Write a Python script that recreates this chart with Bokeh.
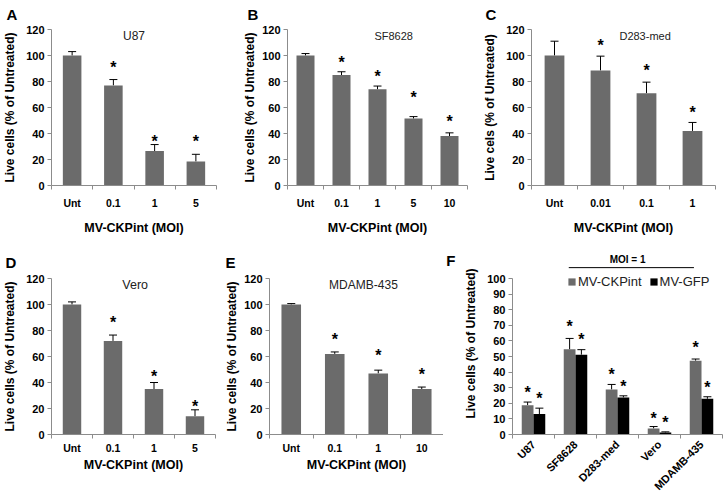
from math import pi
from bokeh.plotting import figure
from bokeh.layouts import row, column
from bokeh.models import (Range1d, FixedTicker, Whisker, TeeHead, ColumnDataSource,
                          Label, Legend, LegendItem, LinearAxis)
from bokeh.transform import dodge
from bokeh.core.properties import value
from bokeh.embed import file_html
from bokeh.resources import INLINE

FONT = "Liberation Sans"
BAR = "#6b6b6b"
AXIS = "#8c8c8c"
YLABEL = "Live cells (% of Untreated)"
YLABEL_C = "Live cels (% of Untreated)"
XLABEL = "MV-CKPint (MOI)"

# ---- data ----
a_cats = ["Unt", "0.1", "1", "5"]
a_vals = [100, 77, 26.5, 18.5]
a_errs = [3, 4.5, 5, 5.5]
a_star = [None, 94, 37, 37]

b_cats = ["Unt", "0.1", "1", "5", "10"]
b_vals = [100, 85, 74, 51.5, 38]
b_errs = [1.5, 2.5, 2.5, 1.5, 2.5]
b_star = [None, 98, 87, 71, 52]

c_cats = ["Unt", "0.01", "0.1", "1"]
c_vals = [100, 88.5, 71, 42]
c_errs = [11, 11, 8.5, 6.5]
c_star = [None, 111, 91.5, 59.5]

d_cats = ["Unt", "0.1", "1", "5"]
d_vals = [100, 72, 35, 14]
d_errs = [2, 4.5, 5, 5]
d_star = [None, 89, 48, 24.5]

e_cats = ["Unt", "0.1", "1", "10"]
e_vals = [100, 62, 47, 35]
e_errs = [0.7, 1.5, 2.5, 1.5]
e_star = [None, 76, 64, 49]

f_cats = ["U87", "SF8628", "D283-med", "Vero", "MDAMB-435"]
f_ck = [18.8, 54.6, 28.9, 3.9, 47.3]
f_ck_err = [2.0, 7.0, 3.2, 1.2, 1.1]
f_gfp = [13.1, 51.2, 23.8, 1.3, 22.9]
f_gfp_err = [3.8, 3.2, 1.0, 0.4, 1.3]
f_ck_star = [29.8, 71.7, 41.1, 12.8, 58.2]
f_gfp_star = [25.5, 63.4, 33.6, 10.5, 32.5]
f_note = "MOI = 1"


def base_fig(w, h, mbl, mbr, mbt, mbb, n, ytop, **kw):
    p = figure(width=w, height=h, output_backend="svg", toolbar_location=None,
               x_range=Range1d(-0.5, n - 0.5), y_range=Range1d(0, ytop),
               min_border_left=mbl, min_border_right=mbr,
               min_border_top=mbt, min_border_bottom=mbb, **kw)
    p.outline_line_color = None
    p.grid.visible = False
    p.background_fill_color = "white"
    p.border_fill_color = "white"
    return p


def style_axes(p, cats, ymax, ystep, tick_so, lab_so, ylab_so, orient=None,
               xlabel=XLABEL, ylabel=YLABEL):
    n = len(cats)
    xa = p.xaxis[0]
    xa.ticker = FixedTicker(ticks=list(range(n)), minor_ticks=[i - 0.5 for i in range(n + 1)])
    xa.major_label_overrides = {i: c for i, c in enumerate(cats)}
    xa.major_tick_out = 0
    xa.major_tick_in = 0
    xa.minor_tick_out = 4
    xa.minor_tick_in = 0
    xa.axis_line_color = AXIS
    xa.minor_tick_line_color = AXIS
    xa.major_label_text_font = FONT
    xa.major_label_text_font_style = "bold"
    xa.major_label_text_font_size = "10.5px"
    xa.major_label_text_color = "black"
    xa.major_label_standoff = tick_so
    if orient is not None:
        xa.major_label_orientation = orient
    if xlabel:
        xa.axis_label = xlabel
        xa.axis_label_text_font = FONT
        xa.axis_label_text_font_style = "bold"
        xa.axis_label_text_font_size = "12.5px"
        xa.axis_label_text_color = "black"
        xa.axis_label_standoff = lab_so

    ya = p.yaxis[0]
    ya.ticker = FixedTicker(ticks=list(range(0, ymax + 1, ystep)))
    ya.bounds = (0, ymax)
    ya.major_tick_out = 4
    ya.major_tick_in = 0
    ya.minor_tick_out = 0
    ya.axis_line_color = AXIS
    ya.major_tick_line_color = AXIS
    ya.major_label_text_font = FONT
    ya.major_label_text_font_style = "bold"
    ya.major_label_text_font_size = "11px"
    ya.major_label_text_color = "black"
    ya.major_label_standoff = 3
    ya.axis_label = ylabel
    ya.axis_label_text_font = FONT
    ya.axis_label_text_font_style = "bold"
    ya.axis_label_text_font_size = "12px"
    ya.axis_label_text_color = "black"
    ya.axis_label_standoff = ylab_so


def add_series(p, cats, vals, errs, stars, width, offset=0.0, color=BAR):
    n = len(cats)
    src = ColumnDataSource(dict(x=list(range(n)), top=vals,
                                upper=[v + e for v, e in zip(vals, errs)]))
    xs = dodge("x", offset, range=p.x_range)
    r = p.vbar(x=xs, top="top", width=width, source=src, fill_color=color, line_color=None)
    p.add_layout(Whisker(base=xs, lower="top", upper="upper", source=src,
                         line_color="black", line_width=1,
                         upper_head=TeeHead(size=8, line_color="black", line_width=1),
                         lower_head=None))
    sx = [i + offset for i, s in enumerate(stars) if s is not None]
    sy = [s for s in stars if s is not None]
    p.text(x=sx, y=sy, text=["*"] * len(sx), text_font=value(FONT), text_font_style="bold",
           text_font_size="16px", text_align="center", text_baseline="middle",
           y_offset=4, text_color="black")
    return r


def set_letter(p, letter, offset, standoff):
    p.title.text = letter
    p.title.align = "left"
    p.title.vertical_align = "top"
    p.title.offset = offset
    p.title.standoff = standoff
    p.title.text_font = FONT
    p.title.text_font_style = "bold"
    p.title.text_font_size = "15px"
    p.title.text_color = "black"


def add_title(p, text, x, y, size):
    p.add_layout(Label(x=x, y=y, x_units="data", y_units="screen", text=text,
                       text_font=FONT, text_font_size=size, text_align="center",
                       text_baseline="middle", text_color="#222222"))


def bar_panel(cats, vals, errs, stars, title, title_x, title_size, letter,
              w, h, mbl, mbr, mbt, mbb, width, tick_so, lab_so, ylab_so, letter_off, letter_so,
              ylabel=YLABEL):
    p = base_fig(w, h, mbl, mbr, mbt, mbb, len(cats), 120)
    add_series(p, cats, vals, errs, stars, width)
    style_axes(p, cats, 120, 20, tick_so, lab_so, ylab_so, ylabel=ylabel)
    fh = h - mbt - mbb
    add_title(p, title, title_x, fh - 6, title_size)
    set_letter(p, letter, letter_off, letter_so)
    return p


# top row: height 246, frame 29..185
pA = bar_panel(a_cats, a_vals, a_errs, a_star, "U87", 1.5, "12px", "A",
               240, 246, 48, 24, 29, 61, 0.45, 7, 9, 6, -45, 9)
pB = bar_panel(b_cats, b_vals, b_errs, b_star, "SF8628", 2.45, "11px", "B",
               240, 246, 40, 13, 29, 61, 0.5, 7, 9, 2, -40, 9)
pC = bar_panel(c_cats, c_vals, c_errs, c_star, "D283-med", 1.97, "11px", "C",
               244, 246, 48, 9, 29, 61, 0.43, 7, 9, 6, -46, 9, ylabel=YLABEL_C)

# bottom row: y 246..503 (height 257), frame 278..434
pD = bar_panel(d_cats, d_vals, d_errs, d_star, "Vero", 1.54, "12.5px", "D",
               222, 257, 48, 7, 32, 69, 0.45, 3, 1, 6, -46, 12)
pE = bar_panel(e_cats, e_vals, e_errs, e_star, "MDAMB-435", 1.66, "12px", "E",
               221, 257, 44, 0, 32, 69, 0.45, 3, 1, 2, -44, 12)

# panel F: frame extends above 100 to hold the MOI note; y axis bounded at 100
FW, FH, FL, FR, FT, FB = 281, 257, 54, 2, 6, 69
FTOP = 116.7
pF = base_fig(FW, FH, FL, FR, FT, FB, len(f_cats), FTOP, title=None)
r1 = add_series(pF, f_cats, f_ck, f_ck_err, f_ck_star, 0.28, -0.14, BAR)
r2 = add_series(pF, f_cats, f_gfp, f_gfp_err, f_gfp_star, 0.28, 0.14, "black")
style_axes(pF, f_cats, 100, 10, 4, 0, 6, orient=pi / 4, xlabel=None)
pF.xaxis[0].major_label_text_font_size = "11px"

# letter F as the single label of an extra, invisible left axis
fl = LinearAxis(ticker=FixedTicker(ticks=[111.5]), major_label_overrides={111.5: "F"},
                axis_line_color=None, major_tick_line_color=None, minor_tick_line_color=None,
                major_label_text_font=FONT, major_label_text_font_style="bold",
                major_label_text_font_size="15px", major_label_text_color="black",
                major_label_standoff=0)
pF.add_layout(fl, "left")

legend = Legend(items=[LegendItem(label="MV-CKPint", renderers=[r1]),
                       LegendItem(label="MV-GFP", renderers=[r2])],
                orientation="horizontal", location=(55, 145),
                glyph_width=9, glyph_height=9, label_height=14, label_standoff=2,
                spacing=7, padding=0, margin=0, border_line_alpha=0,
                background_fill_alpha=0, label_text_font=FONT,
                label_text_font_size="13px", label_text_color="#222222")
pF.add_layout(legend)
pF.segment(x0=[0.84], y0=[107], x1=[3.82], y1=[107], line_color="black", line_width=1)
pF.text(x=[2.24], y=[112.2], text=[f_note], text_font=value(FONT), text_font_style="bold",
        text_font_size="10px", text_align="center", text_baseline="middle",
        text_color="black")

layout = column(row(pA, pB, pC, spacing=0),
                row(pD, pE, column(pF, spacing=0), spacing=0), spacing=0)
open("out.html", "w").write(file_html(layout, INLINE))
